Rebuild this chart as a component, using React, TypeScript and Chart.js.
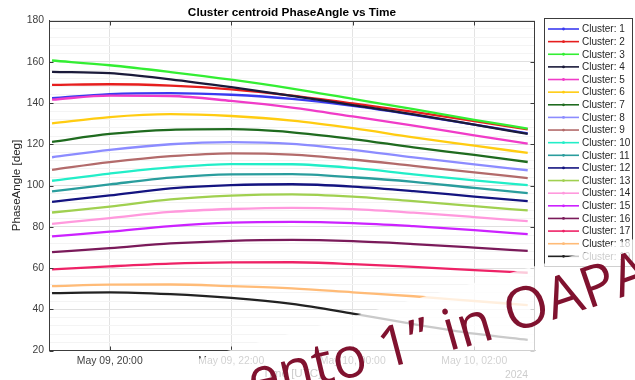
import React, { useEffect, useMemo, useRef } from "react";
import { Chart, registerables } from "chart.js";

Chart.register(...registerables);

// Time axis: hours since 2024-05-09 00:00 (24 = May 10, 00:00)
const TIME_HOURS = [19.05, 20, 21, 22, 23, 24, 25, 26, 26.88];

const CLUSTER_1 = [142.3, 144.3, 144.8, 144.0, 142.0, 138.6, 134.3, 129.5, 125.3];
const CLUSTER_2 = [148.8, 149.1, 148.4, 146.6, 143.6, 139.8, 135.7, 131.2, 127.2];
const CLUSTER_3 = [160.6, 158.3, 155.0, 151.3, 147.0, 142.0, 137.0, 131.8, 127.6];
const CLUSTER_4 = [155.1, 154.5, 151.5, 147.7, 143.5, 139.0, 134.5, 129.5, 125.0];
const CLUSTER_5 = [141.6, 143.6, 143.4, 141.0, 137.8, 133.5, 129.0, 124.3, 120.3];
const CLUSTER_6 = [130.1, 133.2, 134.6, 133.7, 131.5, 127.8, 123.3, 119.3, 115.8];
const CLUSTER_7 = [121.2, 125.0, 127.0, 127.3, 125.8, 122.5, 118.5, 114.8, 111.4];
const CLUSTER_8 = [113.7, 117.3, 120.0, 121.0, 120.2, 117.3, 113.6, 110.2, 107.4];
const CLUSTER_9 = [107.6, 111.3, 114.2, 115.6, 115.0, 112.6, 109.5, 106.4, 103.6];
const CLUSTER_10 = [102.3, 105.8, 108.8, 110.4, 110.3, 108.5, 105.4, 102.5, 100.2];
const CLUSTER_11 = [97.1, 100.5, 103.8, 105.4, 105.5, 104.0, 101.8, 98.8, 96.3];
const CLUSTER_12 = [92.1, 95.2, 98.6, 100.2, 100.6, 99.5, 97.3, 94.6, 92.4];
const CLUSTER_13 = [86.9, 89.8, 93.3, 95.1, 95.7, 94.6, 92.4, 90.0, 87.9];
const CLUSTER_14 = [81.4, 84.2, 87.2, 88.6, 89.2, 88.5, 86.8, 84.7, 82.7];
const CLUSTER_15 = [75.3, 77.6, 80.3, 82.0, 82.4, 81.8, 80.3, 78.4, 76.4];
const CLUSTER_16 = [67.7, 69.6, 71.9, 73.2, 73.6, 73.0, 71.6, 69.9, 68.3];
const CLUSTER_17 = [59.3, 60.8, 62.1, 62.7, 62.8, 61.9, 60.5, 59.0, 57.7];
const CLUSTER_18 = [51.2, 51.9, 52.0, 51.2, 50.1, 48.2, 46.3, 44.0, 42.0];
const CLUSTER_19 = [47.8, 48.2, 47.3, 45.5, 42.6, 37.9, 32.8, 28.2, 25.2];

const SERIES = [
  CLUSTER_1, CLUSTER_2, CLUSTER_3, CLUSTER_4, CLUSTER_5, CLUSTER_6, CLUSTER_7,
  CLUSTER_8, CLUSTER_9, CLUSTER_10, CLUSTER_11, CLUSTER_12, CLUSTER_13,
  CLUSTER_14, CLUSTER_15, CLUSTER_16, CLUSTER_17, CLUSTER_18, CLUSTER_19,
];

const COLORS = [
  "#3a3af0", "#e61e1e", "#33ee33", "#1a1a3a", "#f03cc8", "#ffcc11", "#1f6b1f",
  "#8c8cff", "#b36b6b", "#22eec8", "#2a9d9d", "#141480", "#a0d050", "#ff99dd",
  "#cc22ff", "#7a1a5a", "#ee2266", "#ffbb77", "#222222",
];

const SERIES_LABELS = SERIES.map((_, i) => `Cluster: ${i + 1}`);

const X_TICKS = [20, 22, 24, 26];
const X_TICK_LABELS = ["May 09, 20:00", "May 09, 22:00", "May 10, 00:00", "May 10, 02:00"];
const Y_MAJOR_TICKS = [20, 40, 60, 80, 100, 120, 140, 160, 180];

const TITLE = "Cluster centroid PhaseAngle vs Time";
const Y_TITLE = "PhaseAngle [deg]";
const X_TITLE = "Time [UTC]";
const YEAR_LABEL = "2024";
const WATERMARK = "ento 1\u201D in OAPA";

const FONT = "'Liberation Sans', Arial, Helvetica, sans-serif";
const WM_FONT = "'Open Sans', sans-serif";
const WM_SIZE = 57;

function layoutWatermark() {
  const cv = document.createElement("canvas");
  const g = cv.getContext("2d")!;
  g.font = `${WM_SIZE}px ${WM_FONT}`;
  const chars = Array.from(WATERMARK);
  const widths = chars.map((ch) => g.measureText(ch).width);
  const oIdx = chars.indexOf("O");
  let sO = 0;
  for (let i = 0; i < oIdx; i++) sO += widths[i];
  const a0 = -17;
  const k = 0.02;
  const ax = 511;
  const ay = 334;
  const angDeg = (s: number) => a0 - k * s;
  const pos = (s: number) => {
    let x = ax;
    let y = ay;
    const n = Math.max(1, Math.ceil(Math.abs(s)));
    const ds = s / n;
    for (let j = 0; j < n; j++) {
      const a = (angDeg((j + 0.5) * ds) * Math.PI) / 180;
      x += Math.cos(a) * ds;
      y += Math.sin(a) * ds;
    }
    return { x, y };
  };
  let s = -sO;
  return chars.map((ch, i) => {
    const p = pos(s);
    const a = angDeg(s + widths[i] / 2);
    s += widths[i];
    return { ch, x: p.x, y: p.y, a };
  });
}

export default function App() {
  const canvasRef = useRef<HTMLCanvasElement | null>(null);
  const wm = useMemo(() => layoutWatermark(), []);

  useEffect(() => {
    document.body.style.margin = "0";
    const canvas = canvasRef.current;
    if (!canvas) return;

    const decor = {
      id: "decor",
      afterDatasetsDraw(chart: any) {
        const c = chart.ctx;
        const a = chart.chartArea;
        const xs = chart.scales.x;
        const ys = chart.scales.y;
        c.save();
        c.strokeStyle = "#3c3c3c";
        c.lineWidth = 1;
        const L = Math.round(a.left) + 0.5;
        const R = Math.round(a.right) - 0.5;
        const T = Math.round(a.top) + 0.5;
        const B = Math.round(a.bottom) - 0.5;
        c.strokeRect(L, T, R - L, B - T);
        c.beginPath();
        for (const v of X_TICKS) {
          const px = Math.round(xs.getPixelForValue(v)) + 0.5;
          c.moveTo(px, B); c.lineTo(px, B - 4);
          c.moveTo(px, T); c.lineTo(px, T + 4);
        }
        for (const v of Y_MAJOR_TICKS) {
          const py = Math.round(ys.getPixelForValue(v)) + 0.5;
          c.moveTo(L, py); c.lineTo(L + 4, py);
          c.moveTo(R, py); c.lineTo(R - 4, py);
        }
        c.stroke();
        c.restore();
      },
      afterDraw(chart: any) {
        const c = chart.ctx;
        const a = chart.chartArea;
        const cx = (a.left + a.right) / 2;
        c.save();
        c.fillStyle = "#000000";
        c.font = `bold 11.8px ${FONT}`;
        c.textAlign = "center";
        c.textBaseline = "middle";
        c.fillText(TITLE, cx, 12.5);
        c.fillStyle = "#262626";
        c.font = `11.6px ${FONT}`;
        c.fillText(X_TITLE, cx, 374);
        c.font = `10.4px ${FONT}`;
        c.textAlign = "right";
        c.fillText(YEAR_LABEL, 528, 375.5);
        c.save();
        c.translate(17, (a.top + a.bottom) / 2);
        c.rotate(-Math.PI / 2);
        c.textAlign = "center";
        c.font = `11.6px ${FONT}`;
        c.fillText(Y_TITLE, 0, 0);
        c.restore();
        const bx = 544.5, by = 18.5, bw = 88, bh = 248;
        c.fillStyle = "#ffffff";
        c.fillRect(bx, by, bw, bh);
        c.strokeStyle = "#3c3c3c";
        c.lineWidth = 1;
        c.strokeRect(bx, by, bw, bh);
        c.font = `10px ${FONT}`;
        c.textAlign = "left";
        c.textBaseline = "middle";
        SERIES_LABELS.forEach((label, i) => {
          const y = 29 + i * 12.63;
          c.strokeStyle = COLORS[i];
          c.lineWidth = 1.6;
          c.beginPath();
          c.moveTo(548, y);
          c.lineTo(579, y);
          c.stroke();
          c.fillStyle = COLORS[i];
          c.beginPath();
          c.arc(563.5, y, 1.4, 0, Math.PI * 2);
          c.fill();
          c.fillStyle = "#262626";
          c.fillText(label, 582, y + 0.5);
        });
        c.restore();
      },
    };

    const datasets = SERIES.map((vals, i) => ({
      label: SERIES_LABELS[i],
      data: vals.map((v, j) => ({ x: TIME_HOURS[j], y: v })),
      borderColor: COLORS[i],
      backgroundColor: COLORS[i],
      borderWidth: 2.3,
      pointRadius: 0,
      cubicInterpolationMode: "monotone" as const,
      order: SERIES.length - i,
    }));

    const chart = new Chart(canvas, {
      type: "line",
      data: { datasets },
      plugins: [decor],
      options: {
        animation: false,
        responsive: true,
        maintainAspectRatio: false,
        layout: { padding: { left: 0, right: 100, top: 20.5, bottom: 0 } },
        plugins: {
          legend: { display: false },
          tooltip: { enabled: false },
          title: { display: false },
        },
        scales: {
          x: {
            type: "linear",
            min: 19,
            max: 27,
            afterBuildTicks: (scale: any) => {
              scale.ticks = X_TICKS.map((v) => ({ value: v }));
            },
            afterFit: (scale: any) => {
              scale.height = 29.5;
            },
            ticks: {
              autoSkip: false,
              maxRotation: 0,
              padding: 4,
              color: "#404040",
              font: { family: FONT, size: 10.4 },
              callback: (v: any) => {
                const idx = X_TICKS.indexOf(Number(v));
                return idx >= 0 ? X_TICK_LABELS[idx] : "";
              },
            },
            grid: { color: "#e3e3e3", drawTicks: false },
            border: { display: true, color: "#3c3c3c" },
          },
          y: {
            type: "linear",
            min: 20,
            max: 180,
            afterBuildTicks: (scale: any) => {
              const t: any[] = [];
              for (let v = 20; v <= 180; v += 4) t.push({ value: v });
              scale.ticks = t;
            },
            afterFit: (scale: any) => {
              scale.width = 49;
            },
            ticks: {
              autoSkip: false,
              padding: 5,
              color: "#404040",
              font: { family: FONT, size: 10.4 },
              callback: (v: any) => (Y_MAJOR_TICKS.includes(Number(v)) ? String(v) : ""),
            },
            grid: {
              drawTicks: false,
              color: (ctx: any) =>
                ctx.tick && Y_MAJOR_TICKS.includes(ctx.tick.value) ? "#e0e0e0" : "#f4f4f4",
            },
            border: { display: true, color: "#3c3c3c" },
          },
        },
      },
    });

    return () => chart.destroy();
  }, []);

  const base = WM_SIZE * 0.888;

  return (
    <div style={{ position: "absolute", left: 0, top: 0, width: 635, height: 380, background: "#fff" }}>
      <canvas ref={canvasRef} />
      <div
        style={{
          position: "absolute",
          left: 0,
          top: 0,
          width: 635,
          height: 380,
          overflow: "hidden",
          pointerEvents: "none",
        }}
      >
        <div
          style={{
            position: "absolute",
            left: 100,
            top: 386,
            width: 900,
            height: 220,
            transform: "rotate(-15.4deg)",
            transformOrigin: "0 0",
            background: "rgba(255,255,255,0.76)",
          }}
        />
        {wm.map((g, i) =>
          g.ch === " " ? null : (
            <span
              key={i}
              style={{
                position: "absolute",
                left: g.x,
                top: g.y - base,
                fontFamily: WM_FONT,
                fontSize: WM_SIZE,
                lineHeight: `${WM_SIZE}px`,
                whiteSpace: "pre",
                color: "#80122f",
                transform: `rotate(${g.a}deg)`,
                transformOrigin: `0px ${base}px`,
              }}
            >
              {g.ch}
            </span>
          )
        )}
      </div>
    </div>
  );
}
